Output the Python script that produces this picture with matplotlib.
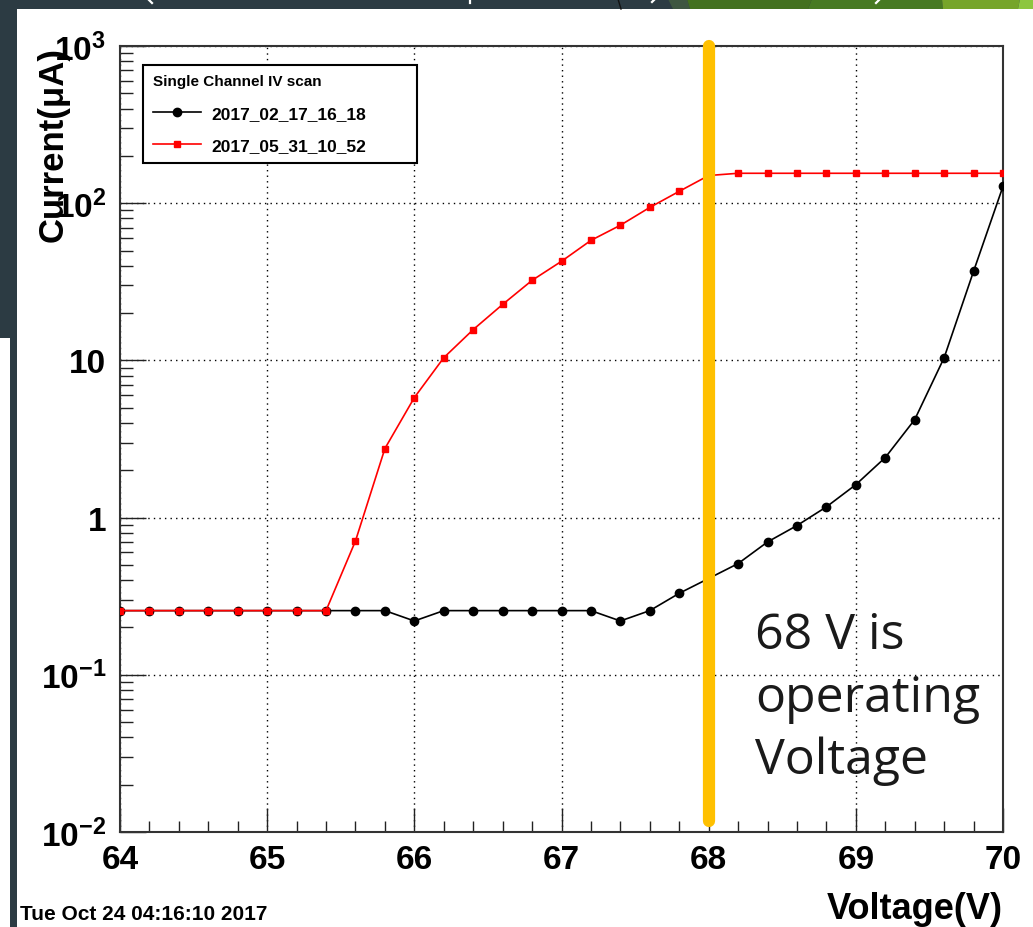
import numpy as np
import matplotlib
matplotlib.use("Agg")
import matplotlib.pyplot as plt
from matplotlib.patches import Rectangle, Polygon
from matplotlib.lines import Line2D
from matplotlib.ticker import FixedLocator, MultipleLocator, LogLocator, NullFormatter

plt.rcParams['font.family'] = ['Liberation Sans', 'DejaVu Sans']
plt.rcParams['font.weight'] = 'bold'
plt.rcParams['mathtext.fontset'] = 'custom'
plt.rcParams['mathtext.rm'] = 'Liberation Sans:bold'
plt.rcParams['mathtext.it'] = 'Liberation Sans:bold'
plt.rcParams['mathtext.bf'] = 'Liberation Sans:bold'
plt.rcParams['mathtext.default'] = 'rm'

# ---------------- data ----------------
voltage = [64.0, 64.2, 64.4, 64.6, 64.8, 65.0, 65.2, 65.4, 65.6, 65.8,
           66.0, 66.2, 66.4, 66.6, 66.8, 67.0, 67.2, 67.4, 67.6, 67.8,
           68.0, 68.2, 68.4, 68.6, 68.8, 69.0, 69.2, 69.4, 69.6, 69.8, 70.0]

current_feb = [0.256, 0.256, 0.256, 0.256, 0.256, 0.256, 0.256, 0.256, 0.256, 0.256,
               0.22, 0.256, 0.256, 0.256, 0.256, 0.256, 0.256, 0.22, 0.256, 0.33,
               0.41, 0.51, 0.70, 0.89, 1.17, 1.62, 2.41, 4.2, 10.4, 36.9, 128.0]

current_may = [0.256, 0.256, 0.256, 0.256, 0.256, 0.256, 0.256, 0.256, 0.71, 2.75,
               5.8, 10.4, 15.7, 22.7, 32.3, 42.7, 58.0, 72.4, 94.0, 119.0,
               150.0, 155.0, 155.0, 155.0, 155.0, 155.0, 155.0, 155.0, 155.0, 155.0, 155.0]

label_feb = "2017_02_17_16_18"
label_may = "2017_05_31_10_52"
legend_title = "Single Channel IV scan"

x_ticks = [64, 65, 66, 67, 68, 69, 70]
x_ticklabels = ["64", "65", "66", "67", "68", "69", "70"]
y_ticks = [1e-2, 1e-1, 1, 10, 1e2, 1e3]
y_ticklabels = [r"$10^{-2}$", r"$10^{-1}$", "1", "10", r"$10^{2}$", r"$10^{3}$"]

operating_voltage = 68
note_text = "68 V is\noperating\nVoltage"
date_text = "Tue Oct 24 04:16:10 2017"

# ---------------- figure ----------------
W, H = 1033, 928
fig = plt.figure(figsize=(W / 100, H / 100), dpi=100)
DARK = '#2c3b43'
fig.patch.set_facecolor(DARK)


def fpx(x, y):
    return (x / W, 1 - y / H)


def frect(x0, y0, x1, y1, color):
    p = Rectangle(fpx(x0, y1), (x1 - x0) / W, (y1 - y0) / H, transform=fig.transFigure,
                  facecolor=color, edgecolor='none', zorder=-5)
    fig.patches.append(p)


def fpoly(pts, color):
    p = Polygon([fpx(x, y) for x, y in pts], closed=True, transform=fig.transFigure,
                facecolor=color, edgecolor='none', zorder=-5)
    fig.patches.append(p)


frect(17, 10, W, H, 'white')
frect(0, 339, 10, H, 'white')
# top slide decorations
fpoly([(668, 0), (687, 0), (690, 10), (673, 10)], '#3e5641')
fpoly([(687, 0), (812, 0), (808, 10), (690, 10)], '#43711f')
fpoly([(812, 0), (942, 0), (943, 10), (808, 10)], '#477a22')
fpoly([(942, 0), (1020, 0), (1018, 10), (943, 10)], '#76a52a')
fpoly([(1020, 0), (W, 0), (W, 10), (1018, 10)], '#8dc63f')
for (xa, ya, xb, yb, c, lw) in [(618, 0, 621, 10, '#111111', 1.0),
                                (148, 0, 152, 4, 'white', 1.6),
                                (470, 0, 470, 4, 'white', 1.6),
                                (655, 0, 652, 3, 'white', 1.6),
                                (880, 0, 876, 4, 'white', 1.6)]:
    fig.lines.append(Line2D([xa / W, xb / W], [1 - ya / H, 1 - yb / H], transform=fig.transFigure,
                            color=c, lw=lw, zorder=-4))

ax = fig.add_axes([120 / W, 1 - 833 / H, 883 / W, 786 / H])
ax.set_zorder(2)
ax.set_facecolor('white')
ax.set_yscale('log')
ax.set_xlim(64, 70)
ax.set_ylim(1e-2, 1e3)

ax.plot(voltage, current_feb, color='black', lw=1.2, marker='o', ms=6, mfc='black', mec='black',
        label=label_feb, zorder=3)
ax.plot(voltage, current_may, color='red', lw=1.2, marker='s', ms=5, mfc='red', mec='red',
        label=label_may, zorder=4)

ax.xaxis.set_major_locator(FixedLocator(x_ticks))
ax.set_xticklabels(x_ticklabels)
ax.xaxis.set_minor_locator(MultipleLocator(0.2))
ax.yaxis.set_major_locator(FixedLocator(y_ticks))
ax.set_yticklabels(y_ticklabels)
ax.yaxis.set_minor_locator(LogLocator(base=10, subs=np.arange(2, 10)))
ax.yaxis.set_minor_formatter(NullFormatter())

ax.tick_params(axis='both', which='both', direction='in', top=False, right=False, width=1, color='#222222')
ax.tick_params(axis='x', which='major', length=17, labelsize=24, pad=9)
ax.tick_params(axis='x', which='minor', length=8)
ax.tick_params(axis='y', which='major', length=19, labelsize=24, pad=10)
ax.tick_params(axis='y', which='minor', length=9)

ax.grid(which='major', linestyle=(0, (1, 3)), color='black', lw=1.0)
for s in ax.spines.values():
    s.set_color('#333333')
    s.set_linewidth(1.5)

ax.axvline(operating_voltage, ymin=0.014, ymax=1.0, color='#FFC000', lw=8.8,
           solid_capstyle='round', clip_on=False, zorder=6)

leg = ax.legend(title=legend_title, loc='upper left', bbox_to_anchor=(0.026, 0.85, 0.31, 0.126),
                mode='expand', borderaxespad=0, frameon=True, fancybox=False, edgecolor='black',
                framealpha=1, prop={'size': 12.5, 'weight': 'bold'},
                title_fontproperties={'size': 11, 'weight': 'bold'}, alignment='left',
                handlelength=2.8, handletextpad=0.6, labelspacing=1.0, borderpad=0.55)
leg.get_frame().set_linewidth(1.5)
leg.set_zorder(7)

fig.text(53 / W, 1 - 47 / H, "Current(\u03bcA)", rotation=90, ha='center', va='top', fontsize=25,
         fontweight='bold', zorder=5)
fig.text(1003 / W, 1 - 919 / H, "Voltage(V)", ha='right', va='baseline', fontsize=26, fontweight='bold')
fig.text(20 / W, 1 - 920 / H, date_text, ha='left', va='baseline', fontsize=15, fontweight='bold')
fig.text(755 / W, 1 - 612 / H, note_text, ha='left', va='top', fontsize=36, fontweight='normal',
         family=['Open Sans', 'DejaVu Sans'], color='#1a1a1a', linespacing=1.34, zorder=8)

fig.savefig('out.png', dpi=100, facecolor=fig.get_facecolor())
